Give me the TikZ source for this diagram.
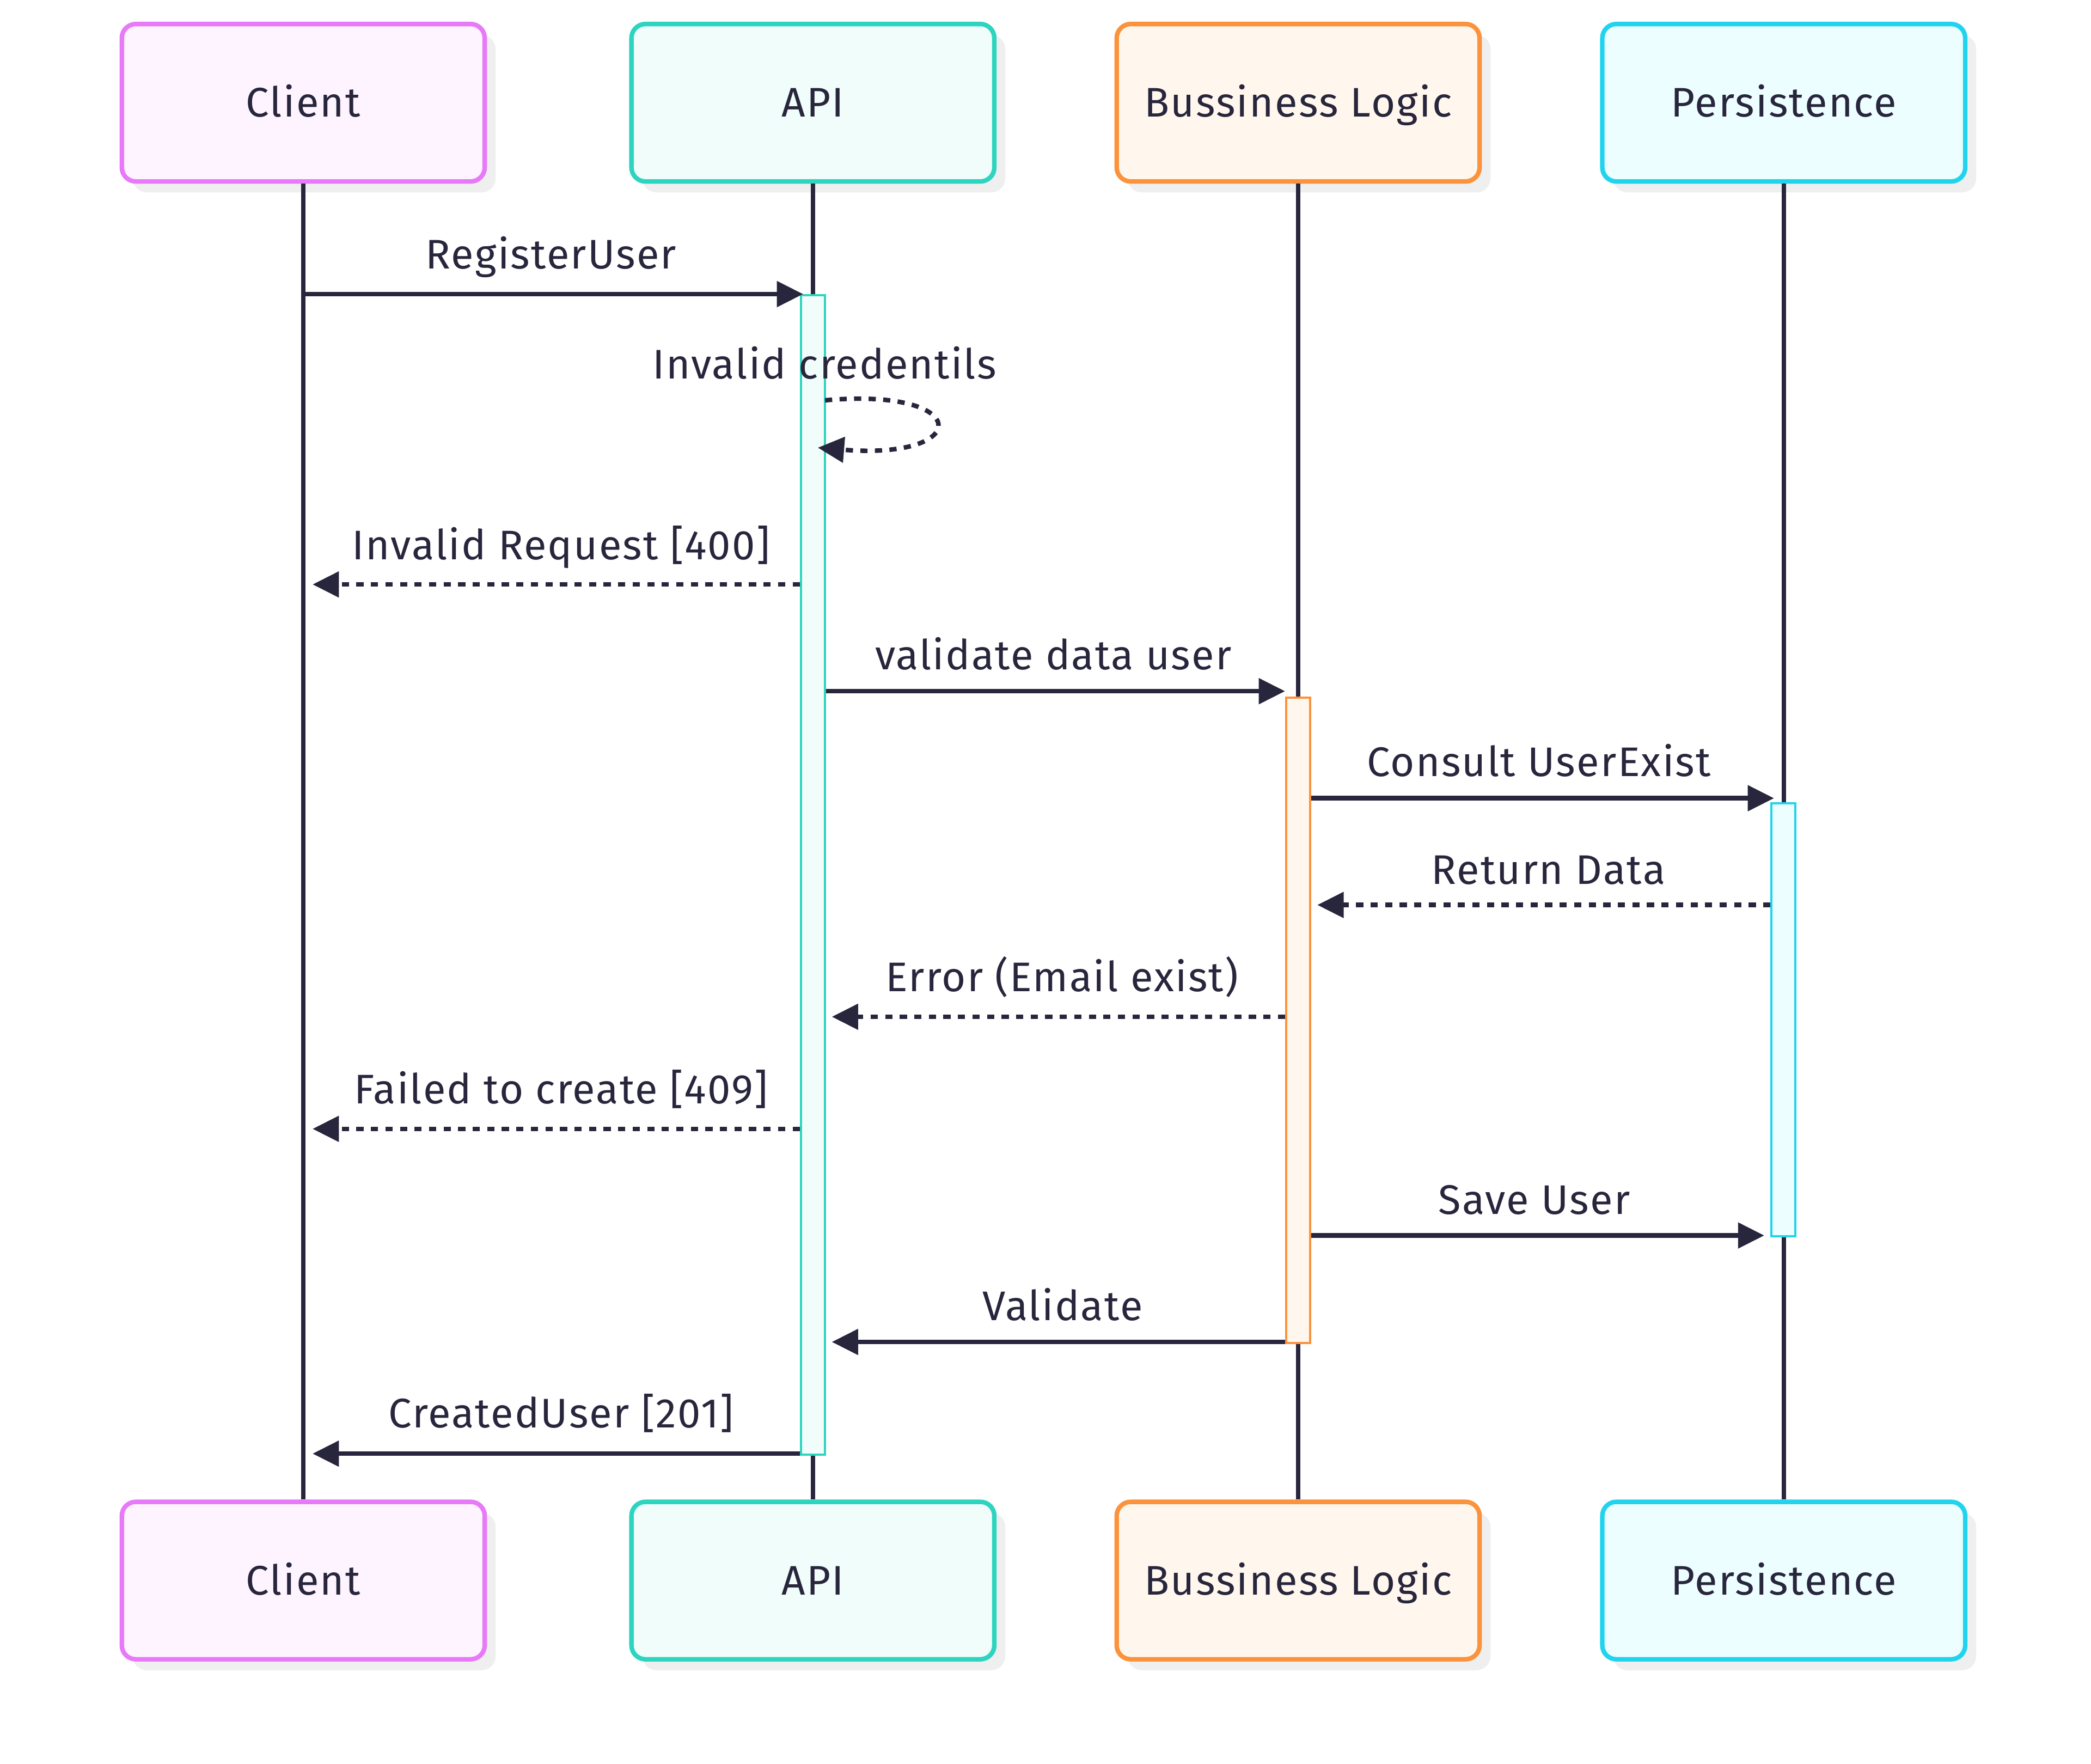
\documentclass[tikz,border=0pt]{standalone}
\usepackage{fontspec}
\setmainfont{Fira Sans}[LetterSpace=3]
\usetikzlibrary{arrows.meta,shadows}

\definecolor{ink}{RGB}{40,38,60}
\definecolor{clientline}{HTML}{E879F9}
\definecolor{clientfill}{HTML}{FDF4FF}
\definecolor{apiline}{HTML}{2DD4BF}
\definecolor{apifill}{HTML}{F0FDFA}
\definecolor{logicline}{HTML}{FB923C}
\definecolor{logicfill}{HTML}{FFF7ED}
\definecolor{persistline}{HTML}{22D3EE}
\definecolor{persistfill}{HTML}{ECFEFF}
\definecolor{shadowgrey}{HTML}{EFEFEF}

\tikzset{
  actor/.style={draw, line width=3.4pt, rounded corners=10.5pt, minimum width=272pt,
    minimum height=118pt, text=ink, font=\fontsize{31}{37}\selectfont,
    text height=21.5pt, text depth=0pt,
    drop shadow={shadow xshift=8.2pt, shadow yshift=-8.2pt, fill=shadowgrey, opacity=1}},
  life/.style={ink, line width=3.5pt},
  bar/.style={draw, line width=1.6pt, minimum width=18pt, inner sep=0pt, anchor=north},
  msg/.style={ink, line width=3.4pt, -{Triangle[length=19.7pt,width=18.8pt]}},
  reply/.style={msg, dash pattern=on 5.4pt off 5.5pt},
  msglabel/.style={text=ink, font=\fontsize{31}{37}\selectfont, anchor=base, inner sep=0pt},
}

\begin{document}
\begin{tikzpicture}[x=1pt,y=-1pt]
    \useasboundingbox (0,0) rectangle (1567.3,1321.6);

    % participants
    \node[actor, draw=clientline, fill=clientfill] (client) at (227.3,77) {Client};
    \node[actor, draw=apiline, fill=apifill] (api) at (609.3,77) {API};
    \node[actor, draw=logicline, fill=logicfill] (logic) at (973,77) {Bussiness Logic};
    \node[actor, draw=persistline, fill=persistfill] (persist) at (1337,77) {Persistence};

    \node[actor, draw=clientline, fill=clientfill] (clientB) at (227.3,1184.5) {Client};
    \node[actor, draw=apiline, fill=apifill] (apiB) at (609.3,1184.5) {API};
    \node[actor, draw=logicline, fill=logicfill] (logicB) at (973,1184.5) {Bussiness Logic};
    \node[actor, draw=persistline, fill=persistfill] (persistB) at (1337,1184.5) {Persistence};

    % lifelines
    \draw[life] (client.south) -- (clientB.north);
    \draw[life] (api.south) -- (apiB.north);
    \draw[life] (logic.south) -- (logicB.north);
    \draw[life] (persist.south) -- (persistB.north);

    % activations
    \node[bar, draw=apiline, fill=apifill, minimum height=869pt] (apiAct) at (609.3,220.4) {};
    \node[bar, draw=logicline, fill=logicfill, minimum height=483.5pt] (logicAct) at (973,522.2) {};
    \node[bar, draw=persistline, fill=persistfill, minimum height=324.4pt] (persistAct) at (1336.8,601.4) {};

    % messages
    \draw[msg] (client |- 0,220.4) -- (602,220.4);
    \node[msglabel] (m1) at (413,201.4) {RegisterUser};

    \coordinate (loopA) at (618.4,300);
    \coordinate (loopB) at (613,335.5);
    \draw[reply] (loopA) .. controls (729.5,290) and (729.5,345) .. (loopB);
    \node[msglabel] (m2) at (618,284) {Invalid credentils};

    \draw[reply] (apiAct.west |- 0,438) -- (234.3,438);
    \node[msglabel] (m3) at (420.5,419.2) {Invalid Request [400]};

    \draw[msg] (apiAct.east |- 0,518) -- (logicAct.west |- 0,518);
    \node[msglabel] (m4) at (789.5,502) {validate data user};

    \draw[msg] (logicAct.east |- 0,598.2) -- (1329.7,598.2);
    \node[msglabel] (m5) at (1153.5,582) {Consult UserExist};

    \draw[reply] (persistAct.west |- 0,678.2) -- (987.4,678.2);
    \node[msglabel] (m6) at (1160.5,662.5) {Return Data};

    \draw[reply] (logicAct.west |- 0,762) -- (623.5,762);
    \node[msglabel] (m7) at (796,743) {Error (Email exist)};

    \draw[reply] (apiAct.west |- 0,846) -- (234.3,846);
    \node[msglabel] (m8) at (420.5,827) {Failed to create [409]};

    \draw[msg] (logicAct.east |- 0,925.9) -- (1322.4,925.9);
    \node[msglabel] (m9) at (1150,910) {Save User};

    \draw[msg] (logicAct.west |- 0,1005.7) -- (623.5,1005.7);
    \node[msglabel] (m10) at (796.5,989.7) {Validate};

    \draw[msg] (apiAct.west |- 0,1089.4) -- (234.3,1089.4);
    \node[msglabel] (m11) at (420.5,1070) {CreatedUser [201]};

\end{tikzpicture}
\end{document}
